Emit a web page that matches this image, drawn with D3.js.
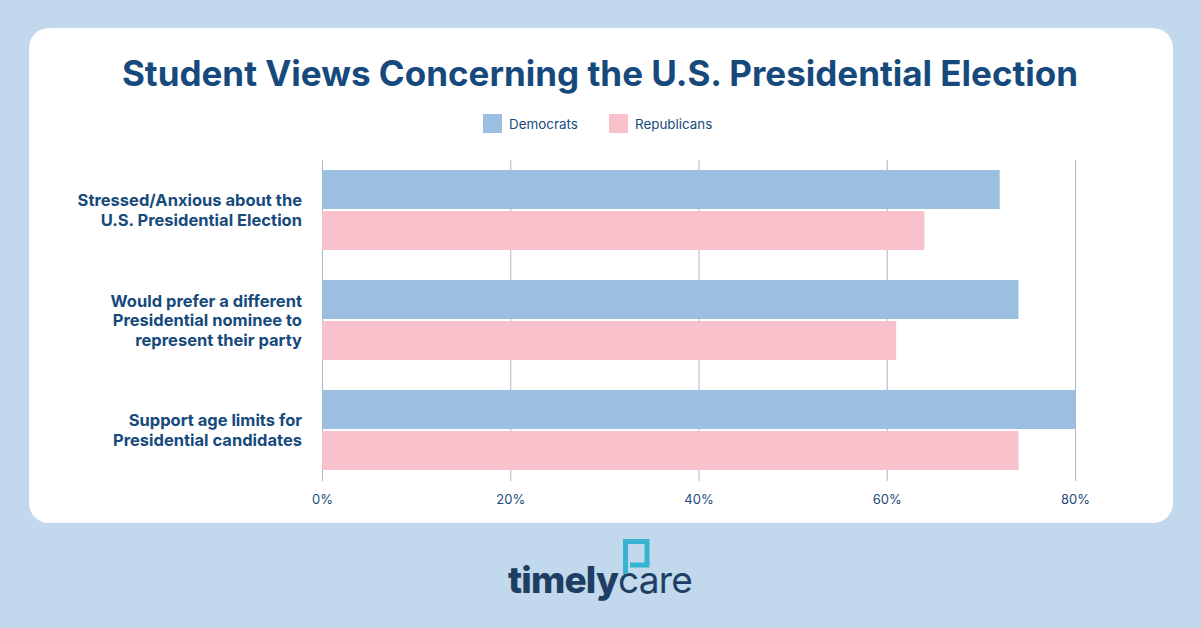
<!DOCTYPE html>
<html lang="en">
<head>
<meta charset="UTF-8">
<title>Student Views Concerning the U.S. Presidential Election</title>
<script src="https://d3js.org/d3.v7.min.js"></script>
<style>
    body {
        margin: 0;
        background-color: #c2d8ec;
        font-family: 'Inter', sans-serif;
    }
    svg { display: block; }
    .tick text { font-size: 13px; fill: #1b4a7a; }
</style>
</head>
<body>
<script>
// data
const categories = [
    ["Stressed/Anxious about the", "U.S. Presidential Election"],
    ["Would prefer a different", "Presidential nominee to", "represent their party"],
    ["Support age limits for", "Presidential candidates"]
];
const democrats = [72, 74, 80];
const republicans = [64, 61, 74];
const seriesNames = ["Democrats", "Republicans"];
const tickValues = [0, 20, 40, 60, 80];

const W = 1201, H = 628;
const navy = "#174a7c";
const colors = ["#9abfe0", "#f9c1cc"];

const svg = d3.select("body").append("svg")
    .attr("width", W)
    .attr("height", H);

// white card
svg.append("rect")
    .attr("x", 29).attr("y", 28)
    .attr("width", 1144).attr("height", 495)
    .attr("rx", 20)
    .attr("fill", "#fff");

// title
svg.append("text")
    .attr("x", 600).attr("y", 86)
    .attr("text-anchor", "middle")
    .attr("font-size", 35)
    .attr("font-weight", 700)
    .attr("fill", navy)
    .text("Student Views Concerning the U.S. Presidential Election");

// legend
const legend = svg.append("g");
const legendX = [483, 609];
seriesNames.forEach((name, i) => {
    legend.append("rect")
        .attr("x", legendX[i]).attr("y", 114)
        .attr("width", 19).attr("height", 19)
        .attr("fill", colors[i]);
    legend.append("text")
        .attr("x", legendX[i] + 26).attr("y", 129)
        .attr("font-size", 13.4)
        .attr("fill", navy)
        .text(name);
});

// scales
const x = d3.scaleLinear().domain([0, 80]).range([322, 1075]);
const y = d3.scaleBand().domain(d3.range(categories.length)).range([155, 485]);
const sub = d3.scaleBand().domain([0, 1]).range([15, 95]).paddingInner(0.05);

// grid + ticks
const axis = svg.append("g")
    .attr("transform", "translate(0,481)")
    .call(d3.axisBottom(x)
        .tickValues(tickValues)
        .tickFormat(d => d + "%")
        .tickSize(-321)
        .tickPadding(14));
axis.select(".domain").remove();
axis.selectAll(".tick line").attr("stroke", "#a9b6cc");
axis.selectAll(".tick text").attr("font-family", "Inter");

// bars
const groups = svg.selectAll(".group")
    .data(categories.map((c, i) => ({ i, vals: [democrats[i], republicans[i]] })))
    .enter().append("g")
    .attr("class", "group")
    .attr("transform", d => `translate(0,${y(d.i)})`);

groups.selectAll("rect")
    .data(d => d.vals)
    .enter().append("rect")
    .attr("x", x(0))
    .attr("y", (v, j) => sub(j))
    .attr("width", v => x(v) - x(0))
    .attr("height", sub.bandwidth())
    .attr("fill", (v, j) => colors[j]);

// category labels
const lineH = 19.5;
categories.forEach((lines, i) => {
    const cy = y(i) + y.bandwidth() / 2;
    const t = svg.append("text")
        .attr("text-anchor", "end")
        .attr("font-size", 16.5)
        .attr("font-weight", 700)
        .attr("fill", navy);
    lines.forEach((l, k) => {
        t.append("tspan")
            .attr("x", 302)
            .attr("y", cy + 6 + (k - (lines.length - 1) / 2) * lineH)
            .text(l);
    });
});

// timelycare logo
const logo = svg.append("text")
    .attr("x", 600).attr("y", 593)
    .attr("text-anchor", "middle")
    .attr("font-size", 37)
    .attr("fill", "#1e3f63")
    .attr("letter-spacing", -0.8);
logo.append("tspan").attr("font-weight", 800).text("timely");
logo.append("tspan").attr("font-weight", 400).text("care");

svg.append("path")
    .attr("d", "M625.5,574 V541.5 H647 V565 H630")
    .attr("fill", "none")
    .attr("stroke", "#35b3d0")
    .attr("stroke-width", 5);
</script>
</body>
</html>
